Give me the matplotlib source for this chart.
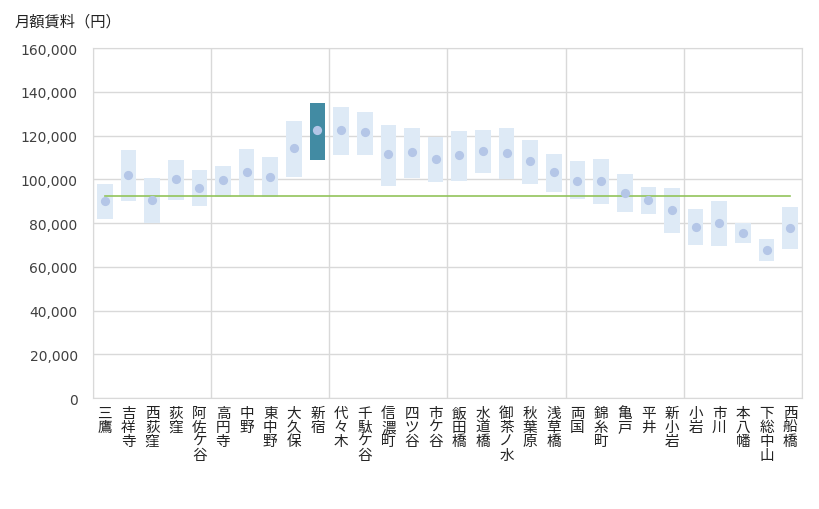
import matplotlib
matplotlib.use('Agg')
import matplotlib.pyplot as plt
from matplotlib.ticker import FuncFormatter

plt.rcParams['font.family'] = ['Noto Sans CJK JP', 'DejaVu Sans']

stations = ['三鷹', '吉祥寺', '西荻窪', '荻窪', '阿佐ケ谷', '高円寺', '中野', '東中野', '大久保', '新宿',
            '代々木', '千駄ケ谷', '信濃町', '四ツ谷', '市ケ谷', '飯田橋', '水道橋', '御茶ノ水', '秋葉原', '浅草橋',
            '両国', '錦糸町', '亀戸', '平井', '新小岩', '小岩', '市川', '本八幡', '下総中山', '西船橋']
rent_low = [81700, 89900, 80000, 90300, 88000, 91700, 92400, 91700, 101200, 108900,
            111200, 111200, 97100, 100800, 98900, 99400, 103000, 100000, 98000, 94400,
            90800, 88500, 84900, 83900, 75300, 69900, 69400, 70800, 62600, 68000]
rent_high = [97900, 113300, 100600, 108800, 104200, 106100, 113800, 110200, 126500, 134700,
             132900, 130600, 124700, 123300, 119200, 122000, 122400, 123300, 117900, 111500,
             108300, 109200, 102400, 96500, 96100, 86500, 90200, 80000, 72900, 87400]
rent_mid = [90000, 101800, 90300, 100000, 96200, 99500, 103200, 100900, 114100, 122300,
            122300, 121400, 111400, 112300, 109100, 110900, 112700, 111800, 108200, 103200,
            99400, 99100, 93600, 90500, 85900, 78200, 80000, 75500, 67700, 77700]
overall_avg = 92200
highlight = '新宿'

fig = plt.figure(figsize=(8.2, 5.1), dpi=100)
ax = fig.add_axes([0.1134, 0.2176, 0.8646, 0.6863])

x = list(range(len(stations)))
heights = [h - l for h, l in zip(rent_high, rent_low)]
colors = ['#428ba3' if s == highlight else '#deeaf6' for s in stations]
ax.bar(x, heights, bottom=rent_low, width=0.66, color=colors, zorder=2)
ax.plot(x, [overall_avg] * len(x), color='#92c45a', lw=1.2, zorder=3)
ax.scatter(x, rent_mid, s=44, color='#b4c6e7', zorder=4, linewidths=0)

ax.set_xlim(-0.5, len(stations) - 0.5)
ax.set_ylim(0, 160000)
ax.set_yticks(range(0, 160001, 20000))
ax.yaxis.set_major_formatter(FuncFormatter(lambda v, p: f'{int(v):,}'))
ax.grid(axis='y', color='#d9d9d9', lw=1, zorder=0)
for k in range(0, len(stations) + 1, 5):
    ax.axvline(k - 0.5, color='#d9d9d9', lw=1, zorder=0)
for sp in ax.spines.values():
    sp.set_color('#d9d9d9')

ax.tick_params(axis='y', length=0, pad=11, labelcolor='#404040')
for lbl in ax.get_yticklabels():
    lbl.set_fontfamily('DejaVu Sans')
    lbl.set_fontsize(10)
ax.tick_params(axis='x', length=0, pad=6)
ax.set_xticks(x)
ax.set_xticklabels(['\n'.join(s) for s in stations], fontsize=10.5, color='#222222',
                   linespacing=0.98, va='top')

fig.text(15 / 820, 1 - 22 / 510, '月額賃料（円）', fontsize=11, color='#222222', va='center')

fig.savefig('out.png', dpi=100)
